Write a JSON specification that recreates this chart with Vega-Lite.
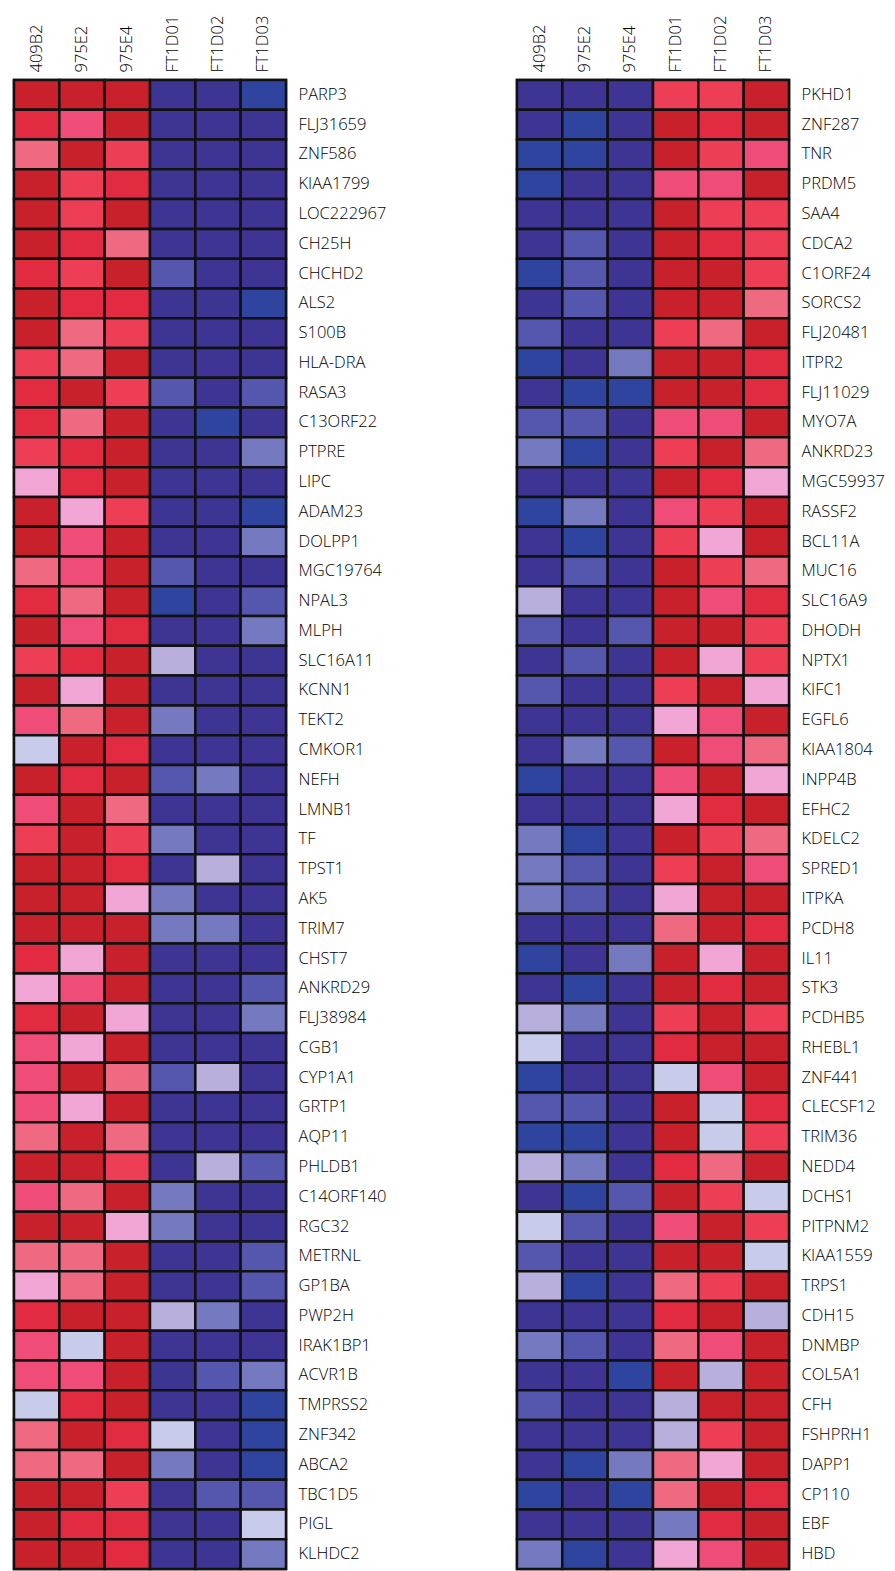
{
"$schema": "https://vega.github.io/schema/vega-lite/v6.json",
"background": "white",
"padding": {"left": 11, "top": 5, "right": 0, "bottom": 0},
"spacing": 10,
"config": {
  "view": {"stroke": "#111", "strokeWidth": 2.5},
  "axis": {"labelFont": "Open Sans", "labelFontSize": 16.5, "labelFontWeight": 300, "labelColor": "#000", "domain": false, "ticks": false, "grid": false, "title": null}
},
"datasets": {
"left": [
{"g":"PARP3","s":"409B2","c":"R"},{"g":"PARP3","s":"975E2","c":"R"},{"g":"PARP3","s":"975E4","c":"R"},{"g":"PARP3","s":"FT1D01","c":"D"},{"g":"PARP3","s":"FT1D02","c":"D"},{"g":"PARP3","s":"FT1D03","c":"N"},
{"g":"FLJ31659","s":"409B2","c":"r"},{"g":"FLJ31659","s":"975E2","c":"h"},{"g":"FLJ31659","s":"975E4","c":"R"},{"g":"FLJ31659","s":"FT1D01","c":"D"},{"g":"FLJ31659","s":"FT1D02","c":"D"},{"g":"FLJ31659","s":"FT1D03","c":"D"},
{"g":"ZNF586","s":"409B2","c":"s"},{"g":"ZNF586","s":"975E2","c":"R"},{"g":"ZNF586","s":"975E4","c":"p"},{"g":"ZNF586","s":"FT1D01","c":"D"},{"g":"ZNF586","s":"FT1D02","c":"D"},{"g":"ZNF586","s":"FT1D03","c":"D"},
{"g":"KIAA1799","s":"409B2","c":"R"},{"g":"KIAA1799","s":"975E2","c":"p"},{"g":"KIAA1799","s":"975E4","c":"r"},{"g":"KIAA1799","s":"FT1D01","c":"D"},{"g":"KIAA1799","s":"FT1D02","c":"D"},{"g":"KIAA1799","s":"FT1D03","c":"D"},
{"g":"LOC222967","s":"409B2","c":"R"},{"g":"LOC222967","s":"975E2","c":"p"},{"g":"LOC222967","s":"975E4","c":"R"},{"g":"LOC222967","s":"FT1D01","c":"D"},{"g":"LOC222967","s":"FT1D02","c":"D"},{"g":"LOC222967","s":"FT1D03","c":"D"},
{"g":"CH25H","s":"409B2","c":"R"},{"g":"CH25H","s":"975E2","c":"r"},{"g":"CH25H","s":"975E4","c":"s"},{"g":"CH25H","s":"FT1D01","c":"D"},{"g":"CH25H","s":"FT1D02","c":"D"},{"g":"CH25H","s":"FT1D03","c":"D"},
{"g":"CHCHD2","s":"409B2","c":"r"},{"g":"CHCHD2","s":"975E2","c":"p"},{"g":"CHCHD2","s":"975E4","c":"R"},{"g":"CHCHD2","s":"FT1D01","c":"M"},{"g":"CHCHD2","s":"FT1D02","c":"D"},{"g":"CHCHD2","s":"FT1D03","c":"D"},
{"g":"ALS2","s":"409B2","c":"R"},{"g":"ALS2","s":"975E2","c":"r"},{"g":"ALS2","s":"975E4","c":"r"},{"g":"ALS2","s":"FT1D01","c":"D"},{"g":"ALS2","s":"FT1D02","c":"D"},{"g":"ALS2","s":"FT1D03","c":"N"},
{"g":"S100B","s":"409B2","c":"R"},{"g":"S100B","s":"975E2","c":"s"},{"g":"S100B","s":"975E4","c":"p"},{"g":"S100B","s":"FT1D01","c":"D"},{"g":"S100B","s":"FT1D02","c":"D"},{"g":"S100B","s":"FT1D03","c":"D"},
{"g":"HLA-DRA","s":"409B2","c":"p"},{"g":"HLA-DRA","s":"975E2","c":"s"},{"g":"HLA-DRA","s":"975E4","c":"R"},{"g":"HLA-DRA","s":"FT1D01","c":"D"},{"g":"HLA-DRA","s":"FT1D02","c":"D"},{"g":"HLA-DRA","s":"FT1D03","c":"D"},
{"g":"RASA3","s":"409B2","c":"r"},{"g":"RASA3","s":"975E2","c":"R"},{"g":"RASA3","s":"975E4","c":"p"},{"g":"RASA3","s":"FT1D01","c":"M"},{"g":"RASA3","s":"FT1D02","c":"D"},{"g":"RASA3","s":"FT1D03","c":"M"},
{"g":"C13ORF22","s":"409B2","c":"r"},{"g":"C13ORF22","s":"975E2","c":"s"},{"g":"C13ORF22","s":"975E4","c":"R"},{"g":"C13ORF22","s":"FT1D01","c":"D"},{"g":"C13ORF22","s":"FT1D02","c":"N"},{"g":"C13ORF22","s":"FT1D03","c":"D"},
{"g":"PTPRE","s":"409B2","c":"p"},{"g":"PTPRE","s":"975E2","c":"r"},{"g":"PTPRE","s":"975E4","c":"R"},{"g":"PTPRE","s":"FT1D01","c":"D"},{"g":"PTPRE","s":"FT1D02","c":"D"},{"g":"PTPRE","s":"FT1D03","c":"L"},
{"g":"LIPC","s":"409B2","c":"k"},{"g":"LIPC","s":"975E2","c":"r"},{"g":"LIPC","s":"975E4","c":"R"},{"g":"LIPC","s":"FT1D01","c":"D"},{"g":"LIPC","s":"FT1D02","c":"D"},{"g":"LIPC","s":"FT1D03","c":"D"},
{"g":"ADAM23","s":"409B2","c":"R"},{"g":"ADAM23","s":"975E2","c":"k"},{"g":"ADAM23","s":"975E4","c":"p"},{"g":"ADAM23","s":"FT1D01","c":"D"},{"g":"ADAM23","s":"FT1D02","c":"D"},{"g":"ADAM23","s":"FT1D03","c":"N"},
{"g":"DOLPP1","s":"409B2","c":"R"},{"g":"DOLPP1","s":"975E2","c":"h"},{"g":"DOLPP1","s":"975E4","c":"R"},{"g":"DOLPP1","s":"FT1D01","c":"D"},{"g":"DOLPP1","s":"FT1D02","c":"D"},{"g":"DOLPP1","s":"FT1D03","c":"L"},
{"g":"MGC19764","s":"409B2","c":"s"},{"g":"MGC19764","s":"975E2","c":"h"},{"g":"MGC19764","s":"975E4","c":"R"},{"g":"MGC19764","s":"FT1D01","c":"M"},{"g":"MGC19764","s":"FT1D02","c":"D"},{"g":"MGC19764","s":"FT1D03","c":"D"},
{"g":"NPAL3","s":"409B2","c":"r"},{"g":"NPAL3","s":"975E2","c":"s"},{"g":"NPAL3","s":"975E4","c":"R"},{"g":"NPAL3","s":"FT1D01","c":"N"},{"g":"NPAL3","s":"FT1D02","c":"D"},{"g":"NPAL3","s":"FT1D03","c":"M"},
{"g":"MLPH","s":"409B2","c":"R"},{"g":"MLPH","s":"975E2","c":"h"},{"g":"MLPH","s":"975E4","c":"r"},{"g":"MLPH","s":"FT1D01","c":"D"},{"g":"MLPH","s":"FT1D02","c":"D"},{"g":"MLPH","s":"FT1D03","c":"L"},
{"g":"SLC16A11","s":"409B2","c":"p"},{"g":"SLC16A11","s":"975E2","c":"r"},{"g":"SLC16A11","s":"975E4","c":"R"},{"g":"SLC16A11","s":"FT1D01","c":"V"},{"g":"SLC16A11","s":"FT1D02","c":"D"},{"g":"SLC16A11","s":"FT1D03","c":"D"},
{"g":"KCNN1","s":"409B2","c":"R"},{"g":"KCNN1","s":"975E2","c":"k"},{"g":"KCNN1","s":"975E4","c":"R"},{"g":"KCNN1","s":"FT1D01","c":"D"},{"g":"KCNN1","s":"FT1D02","c":"D"},{"g":"KCNN1","s":"FT1D03","c":"D"},
{"g":"TEKT2","s":"409B2","c":"h"},{"g":"TEKT2","s":"975E2","c":"s"},{"g":"TEKT2","s":"975E4","c":"R"},{"g":"TEKT2","s":"FT1D01","c":"L"},{"g":"TEKT2","s":"FT1D02","c":"D"},{"g":"TEKT2","s":"FT1D03","c":"D"},
{"g":"CMKOR1","s":"409B2","c":"W"},{"g":"CMKOR1","s":"975E2","c":"R"},{"g":"CMKOR1","s":"975E4","c":"r"},{"g":"CMKOR1","s":"FT1D01","c":"D"},{"g":"CMKOR1","s":"FT1D02","c":"D"},{"g":"CMKOR1","s":"FT1D03","c":"D"},
{"g":"NEFH","s":"409B2","c":"R"},{"g":"NEFH","s":"975E2","c":"r"},{"g":"NEFH","s":"975E4","c":"R"},{"g":"NEFH","s":"FT1D01","c":"M"},{"g":"NEFH","s":"FT1D02","c":"L"},{"g":"NEFH","s":"FT1D03","c":"D"},
{"g":"LMNB1","s":"409B2","c":"h"},{"g":"LMNB1","s":"975E2","c":"R"},{"g":"LMNB1","s":"975E4","c":"s"},{"g":"LMNB1","s":"FT1D01","c":"D"},{"g":"LMNB1","s":"FT1D02","c":"D"},{"g":"LMNB1","s":"FT1D03","c":"D"},
{"g":"TF","s":"409B2","c":"p"},{"g":"TF","s":"975E2","c":"R"},{"g":"TF","s":"975E4","c":"p"},{"g":"TF","s":"FT1D01","c":"L"},{"g":"TF","s":"FT1D02","c":"D"},{"g":"TF","s":"FT1D03","c":"D"},
{"g":"TPST1","s":"409B2","c":"R"},{"g":"TPST1","s":"975E2","c":"R"},{"g":"TPST1","s":"975E4","c":"r"},{"g":"TPST1","s":"FT1D01","c":"D"},{"g":"TPST1","s":"FT1D02","c":"V"},{"g":"TPST1","s":"FT1D03","c":"D"},
{"g":"AK5","s":"409B2","c":"R"},{"g":"AK5","s":"975E2","c":"R"},{"g":"AK5","s":"975E4","c":"k"},{"g":"AK5","s":"FT1D01","c":"L"},{"g":"AK5","s":"FT1D02","c":"D"},{"g":"AK5","s":"FT1D03","c":"D"},
{"g":"TRIM7","s":"409B2","c":"R"},{"g":"TRIM7","s":"975E2","c":"R"},{"g":"TRIM7","s":"975E4","c":"R"},{"g":"TRIM7","s":"FT1D01","c":"L"},{"g":"TRIM7","s":"FT1D02","c":"L"},{"g":"TRIM7","s":"FT1D03","c":"D"},
{"g":"CHST7","s":"409B2","c":"r"},{"g":"CHST7","s":"975E2","c":"k"},{"g":"CHST7","s":"975E4","c":"R"},{"g":"CHST7","s":"FT1D01","c":"D"},{"g":"CHST7","s":"FT1D02","c":"D"},{"g":"CHST7","s":"FT1D03","c":"D"},
{"g":"ANKRD29","s":"409B2","c":"k"},{"g":"ANKRD29","s":"975E2","c":"h"},{"g":"ANKRD29","s":"975E4","c":"R"},{"g":"ANKRD29","s":"FT1D01","c":"D"},{"g":"ANKRD29","s":"FT1D02","c":"D"},{"g":"ANKRD29","s":"FT1D03","c":"M"},
{"g":"FLJ38984","s":"409B2","c":"r"},{"g":"FLJ38984","s":"975E2","c":"R"},{"g":"FLJ38984","s":"975E4","c":"k"},{"g":"FLJ38984","s":"FT1D01","c":"D"},{"g":"FLJ38984","s":"FT1D02","c":"D"},{"g":"FLJ38984","s":"FT1D03","c":"L"},
{"g":"CGB1","s":"409B2","c":"h"},{"g":"CGB1","s":"975E2","c":"k"},{"g":"CGB1","s":"975E4","c":"R"},{"g":"CGB1","s":"FT1D01","c":"D"},{"g":"CGB1","s":"FT1D02","c":"D"},{"g":"CGB1","s":"FT1D03","c":"D"},
{"g":"CYP1A1","s":"409B2","c":"h"},{"g":"CYP1A1","s":"975E2","c":"R"},{"g":"CYP1A1","s":"975E4","c":"s"},{"g":"CYP1A1","s":"FT1D01","c":"M"},{"g":"CYP1A1","s":"FT1D02","c":"V"},{"g":"CYP1A1","s":"FT1D03","c":"D"},
{"g":"GRTP1","s":"409B2","c":"h"},{"g":"GRTP1","s":"975E2","c":"k"},{"g":"GRTP1","s":"975E4","c":"R"},{"g":"GRTP1","s":"FT1D01","c":"D"},{"g":"GRTP1","s":"FT1D02","c":"D"},{"g":"GRTP1","s":"FT1D03","c":"D"},
{"g":"AQP11","s":"409B2","c":"s"},{"g":"AQP11","s":"975E2","c":"R"},{"g":"AQP11","s":"975E4","c":"s"},{"g":"AQP11","s":"FT1D01","c":"D"},{"g":"AQP11","s":"FT1D02","c":"D"},{"g":"AQP11","s":"FT1D03","c":"D"},
{"g":"PHLDB1","s":"409B2","c":"R"},{"g":"PHLDB1","s":"975E2","c":"R"},{"g":"PHLDB1","s":"975E4","c":"p"},{"g":"PHLDB1","s":"FT1D01","c":"D"},{"g":"PHLDB1","s":"FT1D02","c":"V"},{"g":"PHLDB1","s":"FT1D03","c":"M"},
{"g":"C14ORF140","s":"409B2","c":"h"},{"g":"C14ORF140","s":"975E2","c":"s"},{"g":"C14ORF140","s":"975E4","c":"R"},{"g":"C14ORF140","s":"FT1D01","c":"L"},{"g":"C14ORF140","s":"FT1D02","c":"D"},{"g":"C14ORF140","s":"FT1D03","c":"D"},
{"g":"RGC32","s":"409B2","c":"R"},{"g":"RGC32","s":"975E2","c":"R"},{"g":"RGC32","s":"975E4","c":"k"},{"g":"RGC32","s":"FT1D01","c":"L"},{"g":"RGC32","s":"FT1D02","c":"D"},{"g":"RGC32","s":"FT1D03","c":"D"},
{"g":"METRNL","s":"409B2","c":"s"},{"g":"METRNL","s":"975E2","c":"s"},{"g":"METRNL","s":"975E4","c":"R"},{"g":"METRNL","s":"FT1D01","c":"D"},{"g":"METRNL","s":"FT1D02","c":"D"},{"g":"METRNL","s":"FT1D03","c":"M"},
{"g":"GP1BA","s":"409B2","c":"k"},{"g":"GP1BA","s":"975E2","c":"s"},{"g":"GP1BA","s":"975E4","c":"R"},{"g":"GP1BA","s":"FT1D01","c":"D"},{"g":"GP1BA","s":"FT1D02","c":"D"},{"g":"GP1BA","s":"FT1D03","c":"M"},
{"g":"PWP2H","s":"409B2","c":"r"},{"g":"PWP2H","s":"975E2","c":"R"},{"g":"PWP2H","s":"975E4","c":"R"},{"g":"PWP2H","s":"FT1D01","c":"V"},{"g":"PWP2H","s":"FT1D02","c":"L"},{"g":"PWP2H","s":"FT1D03","c":"D"},
{"g":"IRAK1BP1","s":"409B2","c":"h"},{"g":"IRAK1BP1","s":"975E2","c":"W"},{"g":"IRAK1BP1","s":"975E4","c":"R"},{"g":"IRAK1BP1","s":"FT1D01","c":"D"},{"g":"IRAK1BP1","s":"FT1D02","c":"D"},{"g":"IRAK1BP1","s":"FT1D03","c":"D"},
{"g":"ACVR1B","s":"409B2","c":"h"},{"g":"ACVR1B","s":"975E2","c":"h"},{"g":"ACVR1B","s":"975E4","c":"R"},{"g":"ACVR1B","s":"FT1D01","c":"D"},{"g":"ACVR1B","s":"FT1D02","c":"M"},{"g":"ACVR1B","s":"FT1D03","c":"L"},
{"g":"TMPRSS2","s":"409B2","c":"W"},{"g":"TMPRSS2","s":"975E2","c":"r"},{"g":"TMPRSS2","s":"975E4","c":"R"},{"g":"TMPRSS2","s":"FT1D01","c":"D"},{"g":"TMPRSS2","s":"FT1D02","c":"D"},{"g":"TMPRSS2","s":"FT1D03","c":"N"},
{"g":"ZNF342","s":"409B2","c":"s"},{"g":"ZNF342","s":"975E2","c":"R"},{"g":"ZNF342","s":"975E4","c":"r"},{"g":"ZNF342","s":"FT1D01","c":"W"},{"g":"ZNF342","s":"FT1D02","c":"D"},{"g":"ZNF342","s":"FT1D03","c":"N"},
{"g":"ABCA2","s":"409B2","c":"s"},{"g":"ABCA2","s":"975E2","c":"s"},{"g":"ABCA2","s":"975E4","c":"R"},{"g":"ABCA2","s":"FT1D01","c":"L"},{"g":"ABCA2","s":"FT1D02","c":"D"},{"g":"ABCA2","s":"FT1D03","c":"N"},
{"g":"TBC1D5","s":"409B2","c":"R"},{"g":"TBC1D5","s":"975E2","c":"R"},{"g":"TBC1D5","s":"975E4","c":"p"},{"g":"TBC1D5","s":"FT1D01","c":"D"},{"g":"TBC1D5","s":"FT1D02","c":"M"},{"g":"TBC1D5","s":"FT1D03","c":"M"},
{"g":"PIGL","s":"409B2","c":"R"},{"g":"PIGL","s":"975E2","c":"r"},{"g":"PIGL","s":"975E4","c":"r"},{"g":"PIGL","s":"FT1D01","c":"D"},{"g":"PIGL","s":"FT1D02","c":"D"},{"g":"PIGL","s":"FT1D03","c":"W"},
{"g":"KLHDC2","s":"409B2","c":"R"},{"g":"KLHDC2","s":"975E2","c":"R"},{"g":"KLHDC2","s":"975E4","c":"r"},{"g":"KLHDC2","s":"FT1D01","c":"D"},{"g":"KLHDC2","s":"FT1D02","c":"D"},{"g":"KLHDC2","s":"FT1D03","c":"L"}
],
"right": [
{"g":"PKHD1","s":"409B2","c":"D"},{"g":"PKHD1","s":"975E2","c":"D"},{"g":"PKHD1","s":"975E4","c":"D"},{"g":"PKHD1","s":"FT1D01","c":"p"},{"g":"PKHD1","s":"FT1D02","c":"p"},{"g":"PKHD1","s":"FT1D03","c":"R"},
{"g":"ZNF287","s":"409B2","c":"D"},{"g":"ZNF287","s":"975E2","c":"N"},{"g":"ZNF287","s":"975E4","c":"D"},{"g":"ZNF287","s":"FT1D01","c":"R"},{"g":"ZNF287","s":"FT1D02","c":"r"},{"g":"ZNF287","s":"FT1D03","c":"R"},
{"g":"TNR","s":"409B2","c":"N"},{"g":"TNR","s":"975E2","c":"N"},{"g":"TNR","s":"975E4","c":"D"},{"g":"TNR","s":"FT1D01","c":"R"},{"g":"TNR","s":"FT1D02","c":"p"},{"g":"TNR","s":"FT1D03","c":"h"},
{"g":"PRDM5","s":"409B2","c":"N"},{"g":"PRDM5","s":"975E2","c":"D"},{"g":"PRDM5","s":"975E4","c":"D"},{"g":"PRDM5","s":"FT1D01","c":"h"},{"g":"PRDM5","s":"FT1D02","c":"h"},{"g":"PRDM5","s":"FT1D03","c":"R"},
{"g":"SAA4","s":"409B2","c":"D"},{"g":"SAA4","s":"975E2","c":"D"},{"g":"SAA4","s":"975E4","c":"D"},{"g":"SAA4","s":"FT1D01","c":"R"},{"g":"SAA4","s":"FT1D02","c":"p"},{"g":"SAA4","s":"FT1D03","c":"p"},
{"g":"CDCA2","s":"409B2","c":"D"},{"g":"CDCA2","s":"975E2","c":"M"},{"g":"CDCA2","s":"975E4","c":"D"},{"g":"CDCA2","s":"FT1D01","c":"R"},{"g":"CDCA2","s":"FT1D02","c":"r"},{"g":"CDCA2","s":"FT1D03","c":"p"},
{"g":"C1ORF24","s":"409B2","c":"N"},{"g":"C1ORF24","s":"975E2","c":"M"},{"g":"C1ORF24","s":"975E4","c":"D"},{"g":"C1ORF24","s":"FT1D01","c":"R"},{"g":"C1ORF24","s":"FT1D02","c":"R"},{"g":"C1ORF24","s":"FT1D03","c":"p"},
{"g":"SORCS2","s":"409B2","c":"D"},{"g":"SORCS2","s":"975E2","c":"M"},{"g":"SORCS2","s":"975E4","c":"D"},{"g":"SORCS2","s":"FT1D01","c":"R"},{"g":"SORCS2","s":"FT1D02","c":"R"},{"g":"SORCS2","s":"FT1D03","c":"s"},
{"g":"FLJ20481","s":"409B2","c":"M"},{"g":"FLJ20481","s":"975E2","c":"D"},{"g":"FLJ20481","s":"975E4","c":"D"},{"g":"FLJ20481","s":"FT1D01","c":"p"},{"g":"FLJ20481","s":"FT1D02","c":"s"},{"g":"FLJ20481","s":"FT1D03","c":"R"},
{"g":"ITPR2","s":"409B2","c":"N"},{"g":"ITPR2","s":"975E2","c":"D"},{"g":"ITPR2","s":"975E4","c":"L"},{"g":"ITPR2","s":"FT1D01","c":"R"},{"g":"ITPR2","s":"FT1D02","c":"R"},{"g":"ITPR2","s":"FT1D03","c":"r"},
{"g":"FLJ11029","s":"409B2","c":"D"},{"g":"FLJ11029","s":"975E2","c":"N"},{"g":"FLJ11029","s":"975E4","c":"N"},{"g":"FLJ11029","s":"FT1D01","c":"R"},{"g":"FLJ11029","s":"FT1D02","c":"R"},{"g":"FLJ11029","s":"FT1D03","c":"r"},
{"g":"MYO7A","s":"409B2","c":"M"},{"g":"MYO7A","s":"975E2","c":"M"},{"g":"MYO7A","s":"975E4","c":"D"},{"g":"MYO7A","s":"FT1D01","c":"h"},{"g":"MYO7A","s":"FT1D02","c":"h"},{"g":"MYO7A","s":"FT1D03","c":"R"},
{"g":"ANKRD23","s":"409B2","c":"L"},{"g":"ANKRD23","s":"975E2","c":"N"},{"g":"ANKRD23","s":"975E4","c":"D"},{"g":"ANKRD23","s":"FT1D01","c":"p"},{"g":"ANKRD23","s":"FT1D02","c":"R"},{"g":"ANKRD23","s":"FT1D03","c":"s"},
{"g":"MGC59937","s":"409B2","c":"D"},{"g":"MGC59937","s":"975E2","c":"D"},{"g":"MGC59937","s":"975E4","c":"D"},{"g":"MGC59937","s":"FT1D01","c":"R"},{"g":"MGC59937","s":"FT1D02","c":"r"},{"g":"MGC59937","s":"FT1D03","c":"k"},
{"g":"RASSF2","s":"409B2","c":"N"},{"g":"RASSF2","s":"975E2","c":"L"},{"g":"RASSF2","s":"975E4","c":"D"},{"g":"RASSF2","s":"FT1D01","c":"h"},{"g":"RASSF2","s":"FT1D02","c":"p"},{"g":"RASSF2","s":"FT1D03","c":"R"},
{"g":"BCL11A","s":"409B2","c":"D"},{"g":"BCL11A","s":"975E2","c":"N"},{"g":"BCL11A","s":"975E4","c":"D"},{"g":"BCL11A","s":"FT1D01","c":"p"},{"g":"BCL11A","s":"FT1D02","c":"k"},{"g":"BCL11A","s":"FT1D03","c":"R"},
{"g":"MUC16","s":"409B2","c":"D"},{"g":"MUC16","s":"975E2","c":"M"},{"g":"MUC16","s":"975E4","c":"D"},{"g":"MUC16","s":"FT1D01","c":"R"},{"g":"MUC16","s":"FT1D02","c":"p"},{"g":"MUC16","s":"FT1D03","c":"s"},
{"g":"SLC16A9","s":"409B2","c":"V"},{"g":"SLC16A9","s":"975E2","c":"D"},{"g":"SLC16A9","s":"975E4","c":"D"},{"g":"SLC16A9","s":"FT1D01","c":"R"},{"g":"SLC16A9","s":"FT1D02","c":"h"},{"g":"SLC16A9","s":"FT1D03","c":"r"},
{"g":"DHODH","s":"409B2","c":"M"},{"g":"DHODH","s":"975E2","c":"D"},{"g":"DHODH","s":"975E4","c":"M"},{"g":"DHODH","s":"FT1D01","c":"R"},{"g":"DHODH","s":"FT1D02","c":"R"},{"g":"DHODH","s":"FT1D03","c":"p"},
{"g":"NPTX1","s":"409B2","c":"D"},{"g":"NPTX1","s":"975E2","c":"M"},{"g":"NPTX1","s":"975E4","c":"D"},{"g":"NPTX1","s":"FT1D01","c":"R"},{"g":"NPTX1","s":"FT1D02","c":"k"},{"g":"NPTX1","s":"FT1D03","c":"p"},
{"g":"KIFC1","s":"409B2","c":"M"},{"g":"KIFC1","s":"975E2","c":"D"},{"g":"KIFC1","s":"975E4","c":"D"},{"g":"KIFC1","s":"FT1D01","c":"p"},{"g":"KIFC1","s":"FT1D02","c":"R"},{"g":"KIFC1","s":"FT1D03","c":"k"},
{"g":"EGFL6","s":"409B2","c":"D"},{"g":"EGFL6","s":"975E2","c":"D"},{"g":"EGFL6","s":"975E4","c":"D"},{"g":"EGFL6","s":"FT1D01","c":"k"},{"g":"EGFL6","s":"FT1D02","c":"h"},{"g":"EGFL6","s":"FT1D03","c":"R"},
{"g":"KIAA1804","s":"409B2","c":"D"},{"g":"KIAA1804","s":"975E2","c":"L"},{"g":"KIAA1804","s":"975E4","c":"M"},{"g":"KIAA1804","s":"FT1D01","c":"R"},{"g":"KIAA1804","s":"FT1D02","c":"h"},{"g":"KIAA1804","s":"FT1D03","c":"s"},
{"g":"INPP4B","s":"409B2","c":"N"},{"g":"INPP4B","s":"975E2","c":"D"},{"g":"INPP4B","s":"975E4","c":"D"},{"g":"INPP4B","s":"FT1D01","c":"h"},{"g":"INPP4B","s":"FT1D02","c":"R"},{"g":"INPP4B","s":"FT1D03","c":"k"},
{"g":"EFHC2","s":"409B2","c":"D"},{"g":"EFHC2","s":"975E2","c":"D"},{"g":"EFHC2","s":"975E4","c":"D"},{"g":"EFHC2","s":"FT1D01","c":"k"},{"g":"EFHC2","s":"FT1D02","c":"r"},{"g":"EFHC2","s":"FT1D03","c":"R"},
{"g":"KDELC2","s":"409B2","c":"L"},{"g":"KDELC2","s":"975E2","c":"N"},{"g":"KDELC2","s":"975E4","c":"D"},{"g":"KDELC2","s":"FT1D01","c":"R"},{"g":"KDELC2","s":"FT1D02","c":"p"},{"g":"KDELC2","s":"FT1D03","c":"s"},
{"g":"SPRED1","s":"409B2","c":"L"},{"g":"SPRED1","s":"975E2","c":"M"},{"g":"SPRED1","s":"975E4","c":"D"},{"g":"SPRED1","s":"FT1D01","c":"p"},{"g":"SPRED1","s":"FT1D02","c":"R"},{"g":"SPRED1","s":"FT1D03","c":"h"},
{"g":"ITPKA","s":"409B2","c":"L"},{"g":"ITPKA","s":"975E2","c":"M"},{"g":"ITPKA","s":"975E4","c":"D"},{"g":"ITPKA","s":"FT1D01","c":"k"},{"g":"ITPKA","s":"FT1D02","c":"R"},{"g":"ITPKA","s":"FT1D03","c":"R"},
{"g":"PCDH8","s":"409B2","c":"D"},{"g":"PCDH8","s":"975E2","c":"D"},{"g":"PCDH8","s":"975E4","c":"D"},{"g":"PCDH8","s":"FT1D01","c":"s"},{"g":"PCDH8","s":"FT1D02","c":"R"},{"g":"PCDH8","s":"FT1D03","c":"r"},
{"g":"IL11","s":"409B2","c":"N"},{"g":"IL11","s":"975E2","c":"D"},{"g":"IL11","s":"975E4","c":"L"},{"g":"IL11","s":"FT1D01","c":"R"},{"g":"IL11","s":"FT1D02","c":"k"},{"g":"IL11","s":"FT1D03","c":"R"},
{"g":"STK3","s":"409B2","c":"D"},{"g":"STK3","s":"975E2","c":"N"},{"g":"STK3","s":"975E4","c":"D"},{"g":"STK3","s":"FT1D01","c":"R"},{"g":"STK3","s":"FT1D02","c":"r"},{"g":"STK3","s":"FT1D03","c":"R"},
{"g":"PCDHB5","s":"409B2","c":"V"},{"g":"PCDHB5","s":"975E2","c":"L"},{"g":"PCDHB5","s":"975E4","c":"D"},{"g":"PCDHB5","s":"FT1D01","c":"p"},{"g":"PCDHB5","s":"FT1D02","c":"R"},{"g":"PCDHB5","s":"FT1D03","c":"p"},
{"g":"RHEBL1","s":"409B2","c":"W"},{"g":"RHEBL1","s":"975E2","c":"D"},{"g":"RHEBL1","s":"975E4","c":"D"},{"g":"RHEBL1","s":"FT1D01","c":"r"},{"g":"RHEBL1","s":"FT1D02","c":"R"},{"g":"RHEBL1","s":"FT1D03","c":"R"},
{"g":"ZNF441","s":"409B2","c":"N"},{"g":"ZNF441","s":"975E2","c":"D"},{"g":"ZNF441","s":"975E4","c":"D"},{"g":"ZNF441","s":"FT1D01","c":"W"},{"g":"ZNF441","s":"FT1D02","c":"h"},{"g":"ZNF441","s":"FT1D03","c":"R"},
{"g":"CLECSF12","s":"409B2","c":"M"},{"g":"CLECSF12","s":"975E2","c":"M"},{"g":"CLECSF12","s":"975E4","c":"D"},{"g":"CLECSF12","s":"FT1D01","c":"R"},{"g":"CLECSF12","s":"FT1D02","c":"W"},{"g":"CLECSF12","s":"FT1D03","c":"r"},
{"g":"TRIM36","s":"409B2","c":"N"},{"g":"TRIM36","s":"975E2","c":"N"},{"g":"TRIM36","s":"975E4","c":"D"},{"g":"TRIM36","s":"FT1D01","c":"R"},{"g":"TRIM36","s":"FT1D02","c":"W"},{"g":"TRIM36","s":"FT1D03","c":"p"},
{"g":"NEDD4","s":"409B2","c":"V"},{"g":"NEDD4","s":"975E2","c":"L"},{"g":"NEDD4","s":"975E4","c":"D"},{"g":"NEDD4","s":"FT1D01","c":"r"},{"g":"NEDD4","s":"FT1D02","c":"s"},{"g":"NEDD4","s":"FT1D03","c":"R"},
{"g":"DCHS1","s":"409B2","c":"D"},{"g":"DCHS1","s":"975E2","c":"N"},{"g":"DCHS1","s":"975E4","c":"M"},{"g":"DCHS1","s":"FT1D01","c":"R"},{"g":"DCHS1","s":"FT1D02","c":"p"},{"g":"DCHS1","s":"FT1D03","c":"W"},
{"g":"PITPNM2","s":"409B2","c":"W"},{"g":"PITPNM2","s":"975E2","c":"M"},{"g":"PITPNM2","s":"975E4","c":"D"},{"g":"PITPNM2","s":"FT1D01","c":"h"},{"g":"PITPNM2","s":"FT1D02","c":"R"},{"g":"PITPNM2","s":"FT1D03","c":"p"},
{"g":"KIAA1559","s":"409B2","c":"M"},{"g":"KIAA1559","s":"975E2","c":"D"},{"g":"KIAA1559","s":"975E4","c":"D"},{"g":"KIAA1559","s":"FT1D01","c":"R"},{"g":"KIAA1559","s":"FT1D02","c":"R"},{"g":"KIAA1559","s":"FT1D03","c":"W"},
{"g":"TRPS1","s":"409B2","c":"V"},{"g":"TRPS1","s":"975E2","c":"N"},{"g":"TRPS1","s":"975E4","c":"D"},{"g":"TRPS1","s":"FT1D01","c":"s"},{"g":"TRPS1","s":"FT1D02","c":"p"},{"g":"TRPS1","s":"FT1D03","c":"R"},
{"g":"CDH15","s":"409B2","c":"D"},{"g":"CDH15","s":"975E2","c":"D"},{"g":"CDH15","s":"975E4","c":"D"},{"g":"CDH15","s":"FT1D01","c":"r"},{"g":"CDH15","s":"FT1D02","c":"R"},{"g":"CDH15","s":"FT1D03","c":"V"},
{"g":"DNMBP","s":"409B2","c":"L"},{"g":"DNMBP","s":"975E2","c":"M"},{"g":"DNMBP","s":"975E4","c":"D"},{"g":"DNMBP","s":"FT1D01","c":"s"},{"g":"DNMBP","s":"FT1D02","c":"h"},{"g":"DNMBP","s":"FT1D03","c":"R"},
{"g":"COL5A1","s":"409B2","c":"D"},{"g":"COL5A1","s":"975E2","c":"D"},{"g":"COL5A1","s":"975E4","c":"N"},{"g":"COL5A1","s":"FT1D01","c":"R"},{"g":"COL5A1","s":"FT1D02","c":"V"},{"g":"COL5A1","s":"FT1D03","c":"R"},
{"g":"CFH","s":"409B2","c":"M"},{"g":"CFH","s":"975E2","c":"D"},{"g":"CFH","s":"975E4","c":"D"},{"g":"CFH","s":"FT1D01","c":"V"},{"g":"CFH","s":"FT1D02","c":"R"},{"g":"CFH","s":"FT1D03","c":"R"},
{"g":"FSHPRH1","s":"409B2","c":"D"},{"g":"FSHPRH1","s":"975E2","c":"D"},{"g":"FSHPRH1","s":"975E4","c":"D"},{"g":"FSHPRH1","s":"FT1D01","c":"V"},{"g":"FSHPRH1","s":"FT1D02","c":"p"},{"g":"FSHPRH1","s":"FT1D03","c":"R"},
{"g":"DAPP1","s":"409B2","c":"D"},{"g":"DAPP1","s":"975E2","c":"N"},{"g":"DAPP1","s":"975E4","c":"L"},{"g":"DAPP1","s":"FT1D01","c":"s"},{"g":"DAPP1","s":"FT1D02","c":"k"},{"g":"DAPP1","s":"FT1D03","c":"R"},
{"g":"CP110","s":"409B2","c":"N"},{"g":"CP110","s":"975E2","c":"D"},{"g":"CP110","s":"975E4","c":"N"},{"g":"CP110","s":"FT1D01","c":"s"},{"g":"CP110","s":"FT1D02","c":"R"},{"g":"CP110","s":"FT1D03","c":"r"},
{"g":"EBF","s":"409B2","c":"D"},{"g":"EBF","s":"975E2","c":"D"},{"g":"EBF","s":"975E4","c":"D"},{"g":"EBF","s":"FT1D01","c":"L"},{"g":"EBF","s":"FT1D02","c":"r"},{"g":"EBF","s":"FT1D03","c":"R"},
{"g":"HBD","s":"409B2","c":"L"},{"g":"HBD","s":"975E2","c":"N"},{"g":"HBD","s":"975E4","c":"D"},{"g":"HBD","s":"FT1D01","c":"k"},{"g":"HBD","s":"FT1D02","c":"h"},{"g":"HBD","s":"FT1D03","c":"R"}
]
},
"hconcat": [
{
  "width": 272, "height": 1489,
  "data": {"name": "left"},
  "mark": {"type": "rect", "stroke": "#111", "strokeWidth": 2.5},
  "encoding": {
    "x": {"field": "s", "type": "nominal", "sort": null, "scale": {"paddingInner": 0, "paddingOuter": 0},
          "axis": {"orient": "top", "labelAngle": -90, "labelAlign": "left", "labelBaseline": "middle", "labelPadding": 8, "minExtent": 73, "maxExtent": 73}},
    "y": {"field": "g", "type": "nominal", "sort": null, "scale": {"paddingInner": 0, "paddingOuter": 0},
          "axis": {"orient": "right", "labelPadding": 12, "labelAlign": "left", "minExtent": 216, "maxExtent": 216}},
    "color": {"field": "c", "type": "nominal", "legend": null,
      "scale": {"domain": ["R","r","p","h","s","k","W","V","L","M","N","D"],
                "range": ["#C9212B","#E22B41","#EE3E56","#EF4C77","#EF6A80","#F2A6D6","#C9CBEA","#B8AFDC","#7479C0","#5556AD","#2F449E","#3D3494"]}}
  }
},
{
  "width": 272, "height": 1489,
  "data": {"name": "right"},
  "mark": {"type": "rect", "stroke": "#111", "strokeWidth": 2.5},
  "encoding": {
    "x": {"field": "s", "type": "nominal", "sort": null, "scale": {"paddingInner": 0, "paddingOuter": 0},
          "axis": {"orient": "top", "labelAngle": -90, "labelAlign": "left", "labelBaseline": "middle", "labelPadding": 8, "minExtent": 73, "maxExtent": 73}},
    "y": {"field": "g", "type": "nominal", "sort": null, "scale": {"paddingInner": 0, "paddingOuter": 0},
          "axis": {"orient": "right", "labelPadding": 12, "labelAlign": "left", "minExtent": 100, "maxExtent": 100}},
    "color": {"field": "c", "type": "nominal", "legend": null,
      "scale": {"domain": ["R","r","p","h","s","k","W","V","L","M","N","D"],
                "range": ["#C9212B","#E22B41","#EE3E56","#EF4C77","#EF6A80","#F2A6D6","#C9CBEA","#B8AFDC","#7479C0","#5556AD","#2F449E","#3D3494"]}}
  }
}
]
}
